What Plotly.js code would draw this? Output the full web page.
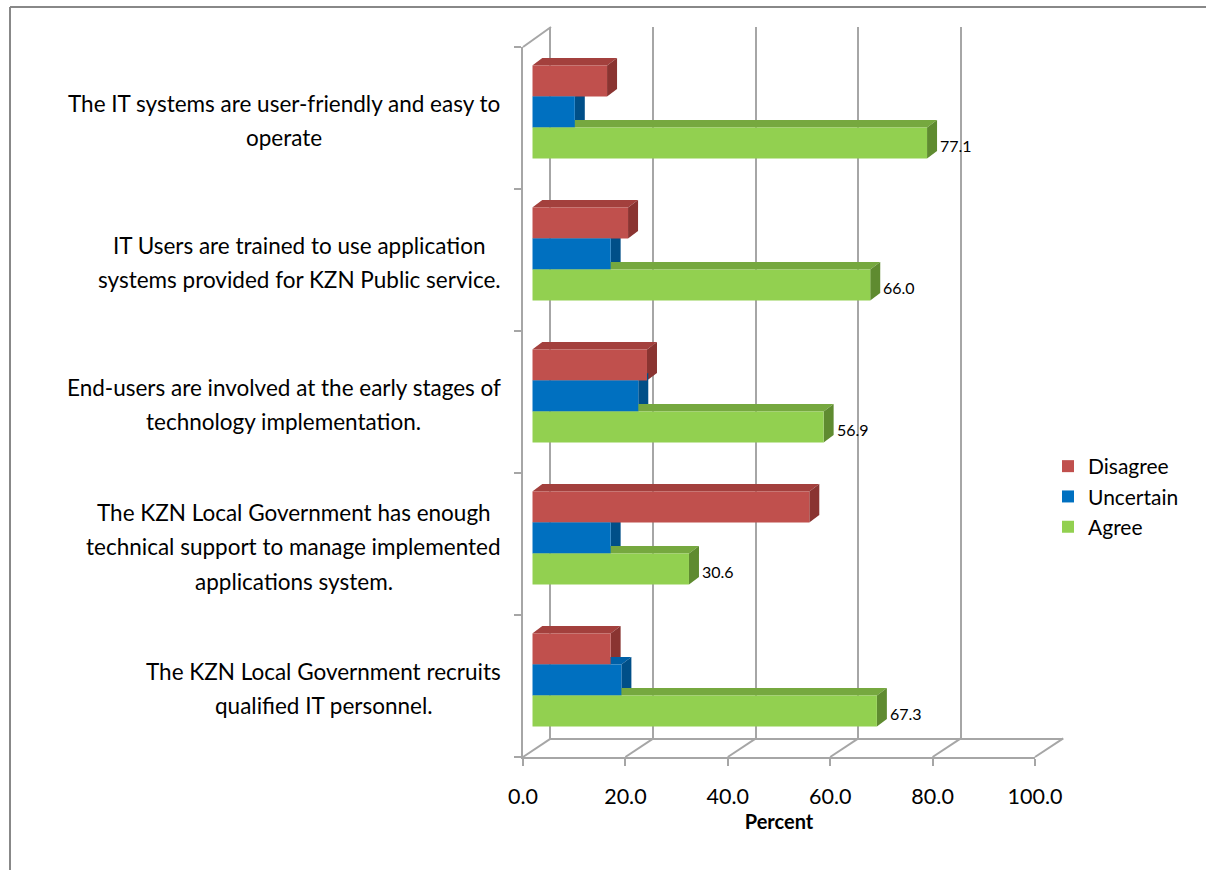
<!DOCTYPE html>
<html><head><meta charset="utf-8">
<script src="https://cdn.plot.ly/plotly-3.0.1.min.js"></script>
<style>html,body{margin:0;padding:0;background:#fff}#chart{width:1206px;height:870px}</style>
</head><body><div id="chart"></div>
<script>
// ---- data ----
const categoryLines = [
  ["The IT systems are user-friendly and easy to", "operate"],
  ["IT Users are trained to use application", "systems provided for KZN Public service."],
  ["End-users are involved at the early stages of", "technology implementation."],
  ["The KZN Local Government has enough", "technical support to manage implemented", "applications system."],
  ["The KZN Local Government recruits", "qualified IT personnel."]
];
const seriesNames = ["Disagree", "Uncertain", "Agree"];
const disagree  = [14.6, 18.7, 22.4, 54.1, 15.3];
const uncertain = [8.3, 15.3, 20.7, 15.3, 17.4];
const agree     = [77.1, 66.0, 56.9, 30.6, 67.3];
const tickValues = [0, 20, 40, 60, 80, 100];
const xTitle = "Percent";

// ---- layout helpers ----
const W = 1206, H = 870;
const FONT = "Lato, 'Open Sans', sans-serif";
const fx = p => p / W;
const fy = p => 1 - p / H;
const GRID = '#a6a6a6';
const catNames = categoryLines.map(l => l.join(' '));

const styles = [
  {front: '#C0504D', top: '#A3403D', side: '#8A3431'},
  {front: '#0070C0', top: '#0060A6', side: '#004F88'},
  {front: '#92D050', top: '#76A83F', side: '#5F8B30'}
];
const seriesVals = [disagree, uncertain, agree];

const traces = [
  {type: 'scatter', x: [0], y: [0], xaxis: 'x', yaxis: 'y', mode: 'markers', marker: {opacity: 0}, showlegend: false, hoverinfo: 'skip'},
  {type: 'scatter', x: [0], y: [0], xaxis: 'x2', yaxis: 'y2', mode: 'markers', marker: {opacity: 0}, showlegend: false, hoverinfo: 'skip'}
];
seriesNames.forEach((n, k) => {
  traces.push({
    type: 'bar', orientation: 'h', name: n, x: seriesVals[k], y: catNames,
    xaxis: 'x3', yaxis: 'y3', marker: {color: styles[k].front, line: {width: 0}},
    hoverinfo: 'x+name'
  });
});

// 3D faces
const barH = 31, pxPerUnit = 512 / 100;
const dX = 10 / pxPerUnit, dY = 7.5;
const shapes = [];
seriesVals.forEach((vals, k) => {
  const yt = 1.5 * barH - k * barH, yb = yt - barH;
  vals.forEach((v, i) => {
    shapes.push({type: 'path', xref: 'x3', yref: 'y3', ysizemode: 'pixel', yanchor: i, layer: 'between',
      path: `M0,${yt} L${v},${yt} L${v + dX},${yt + dY} L${dX},${yt + dY} Z`,
      fillcolor: styles[k].top, line: {width: 0}});
    shapes.push({type: 'path', xref: 'x3', yref: 'y3', ysizemode: 'pixel', yanchor: i, layer: 'between',
      path: `M${v},${yb} L${v},${yt} L${v + dX},${yt + dY} L${v + dX},${yb + dY} Z`,
      fillcolor: styles[k].side, line: {width: 0}});
  });
});
// floor diagonals / wall edge
const frontX = t => 523 + t * 5.12, backX = t => 551 + t * 5.123;
tickValues.forEach(t => {
  shapes.push({type: 'line', xref: 'paper', yref: 'paper', x0: fx(frontX(t)), y0: fy(757), x1: fx(backX(t)), y1: fy(738.3), line: {color: GRID, width: 2}});
});
shapes.push({type: 'line', xref: 'paper', yref: 'paper', x0: fx(523), y0: fy(47), x1: fx(551), y1: fy(27), line: {color: GRID, width: 2}});
// chart frame
shapes.push({type: 'line', xref: 'paper', yref: 'paper', x0: fx(10), y0: fy(7), x1: fx(10), y1: 0, line: {color: '#888888', width: 2}});
shapes.push({type: 'line', xref: 'paper', yref: 'paper', x0: fx(10), y0: fy(7), x1: 1, y1: fy(7), line: {color: '#888888', width: 2}});

// annotations
const annotations = [];
const ctx = document.createElement('canvas').getContext('2d');
const labelSize = 22.5;
ctx.font = labelSize + 'px Lato';
categoryLines.forEach((lines, i) => {
  const maxW = Math.max(...lines.map(s => ctx.measureText(s).width));
  const cx = 501 - maxW / 2;
  lines.forEach((s, j) => {
    const off = (j - (lines.length - 1) / 2) * 34.5 + 8.5;
    annotations.push({xref: 'paper', yref: 'y3', x: fx(cx), y: i, xanchor: 'center', yanchor: 'middle',
      yshift: -off, text: s, showarrow: false, font: {family: FONT, size: labelSize, color: '#000'}});
  });
});
agree.forEach((v, i) => {
  annotations.push({xref: 'x3', yref: 'y3', x: v, y: i, xanchor: 'left', yanchor: 'middle', xshift: 11, yshift: -33,
    text: v.toFixed(1), showarrow: false, font: {family: FONT, size: 16, color: '#000'}});
});

const layout = {
  width: W, height: H, margin: {l: 0, r: 0, t: 0, b: 0},
  paper_bgcolor: '#fff', plot_bgcolor: 'rgba(0,0,0,0)',
  font: {family: FONT, color: '#000'},
  barmode: 'group', bargap: 0.345, bargroupgap: 0,
  xaxis: {domain: [fx(551), fx(1063.3)], range: [0, 100], tick0: 0, dtick: 20, showgrid: true, gridcolor: GRID, gridwidth: 2,
    showticklabels: false, ticks: '', zeroline: false, showline: true, linecolor: GRID, linewidth: 2, anchor: 'y', fixedrange: true},
  yaxis: {domain: [fy(738.3), fy(27)], range: [0, 1], showgrid: false, zeroline: false, showticklabels: false, ticks: '',
    showline: true, linecolor: GRID, linewidth: 2, anchor: 'x', fixedrange: true},
  xaxis2: {domain: [fx(523), fx(1035)], range: [0, 100], tickvals: tickValues, ticktext: tickValues.map(t => t.toFixed(1)),
    ticks: 'outside', ticklen: 7, tickwidth: 2, tickcolor: GRID, showline: true, linecolor: GRID, linewidth: 2,
    ticklabelstandoff: 12,
    showgrid: false, zeroline: false, anchor: 'y2', tickfont: {family: FONT, size: 21.5, color: '#000'},
    title: {text: '<b>' + xTitle + '</b>', font: {family: FONT, size: 20, color: '#000'}, standoff: 6}, fixedrange: true},
  yaxis2: {domain: [fy(757), fy(47)], range: [0, 5], tickvals: [0, 1, 2, 3, 4, 5], ticks: 'outside', ticklen: 7, tickwidth: 2,
    tickcolor: GRID, showticklabels: false, showline: true, linecolor: GRID, linewidth: 2, showgrid: false, zeroline: false,
    anchor: 'x2', fixedrange: true},
  xaxis3: {domain: [fx(532.3), fx(532.3 + 512)], range: [0, 100], visible: false, anchor: 'y3', fixedrange: true},
  yaxis3: {domain: [fy(751), fy(41)], type: 'category', categoryorder: 'array', categoryarray: catNames,
    range: [4.5, -0.5], visible: false, anchor: 'x3', fixedrange: true},
  legend: {x: fx(1048), y: fy(446), xanchor: 'left', yanchor: 'top', traceorder: 'normal',
    font: {family: FONT, size: 21, color: '#000'}, bgcolor: 'rgba(0,0,0,0)'},
  shapes: shapes, annotations: annotations, showlegend: true
};

Plotly.newPlot('chart', traces, layout, {displayModeBar: false, staticPlot: true});
</script>
</body></html>
